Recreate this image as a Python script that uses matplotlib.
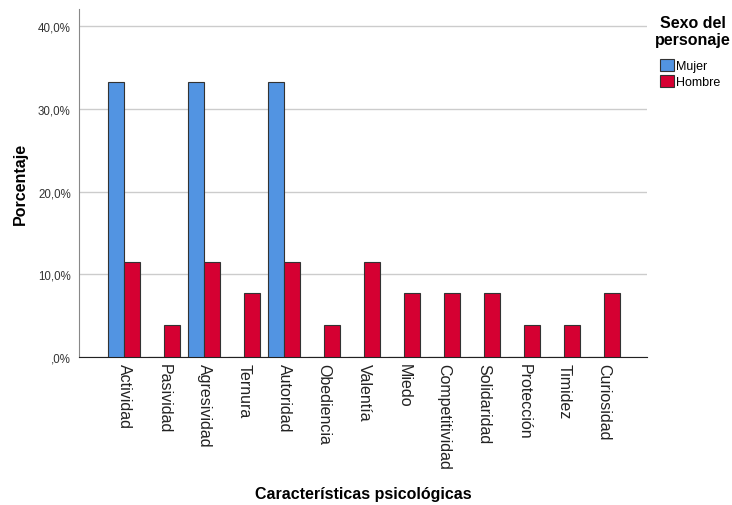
import matplotlib
matplotlib.use("Agg")
import matplotlib.pyplot as plt
import numpy as np

categories = ["Actividad", "Pasividad", "Agresividad", "Ternura", "Autoridad", "Obediencia",
              "Valentía", "Miedo", "Competitividad", "Solidaridad", "Protección", "Timidez", "Curiosidad"]
mujer = [33.3, 0, 33.3, 0, 33.3, 0, 0, 0, 0, 0, 0, 0, 0]
hombre = [11.5, 3.85, 11.5, 7.7, 11.5, 3.85, 11.5, 7.7, 7.7, 7.7, 3.85, 3.85, 7.7]
yticks = [0, 10, 20, 30, 40]
ytick_labels = [",0%", "10,0%", "20,0%", "30,0%", "40,0%"]

plt.rcParams['font.family'] = ['Liberation Sans', 'DejaVu Sans']

fig = plt.figure(figsize=(7.32, 5.06), dpi=100)
ax = fig.add_axes([0.108, 0.2925, 0.776, 0.688])

x = np.arange(len(categories))
w = 0.4
ax.bar(x - w/2, mujer, w, color="#5294e2", edgecolor="#333333", linewidth=0.8, label="Mujer", zorder=3)
ax.bar(x + w/2, hombre, w, color="#d50032", edgecolor="#333333", linewidth=0.8, label="Hombre", zorder=3)

ax.set_xlim(-1.125, 13.075)
ax.set_ylim(0, 42.1)
ax.set_yticks(yticks)
ax.set_yticklabels(ytick_labels, fontsize=8.3, color="#333333")
ax.set_xticks(x)
ax.set_xticklabels(categories, rotation=-90, fontsize=11.5, color="#222222")
ax.tick_params(axis='both', length=0)
ax.tick_params(axis='y', pad=6)
ax.tick_params(axis='x', pad=4)
ax.yaxis.grid(True, color="#cccccc", linewidth=1, zorder=0)
ax.set_axisbelow(True)
for s in ["top", "right"]:
    ax.spines[s].set_visible(False)
ax.spines["left"].set_color("#888888")
ax.spines["bottom"].set_color("#222222")

ax.set_ylabel("Porcentaje", fontsize=11.5, fontweight="bold")
ax.yaxis.set_label_coords(-0.09, 0.5)
ax.set_xlabel("Características psicológicas", fontsize=11.5, fontweight="bold", va="center")
ax.xaxis.set_label_coords(0.5, -136 / 348)

fig.text(693 / 732, 1 - 32 / 506, "Sexo del\npersonaje", ha="center", va="center",
         fontsize=11.5, fontweight="bold", linespacing=1.25)

leg = ax.legend(loc="upper left", bbox_to_anchor=(660 / 732, 1 - 60 / 506),
                bbox_transform=fig.transFigure, frameon=False,
                fontsize=9, handlelength=1.1, handleheight=1.1,
                handletextpad=0.2, labelspacing=0.2, borderpad=0.0, borderaxespad=0.0)

fig.savefig("out.png", dpi=100)
